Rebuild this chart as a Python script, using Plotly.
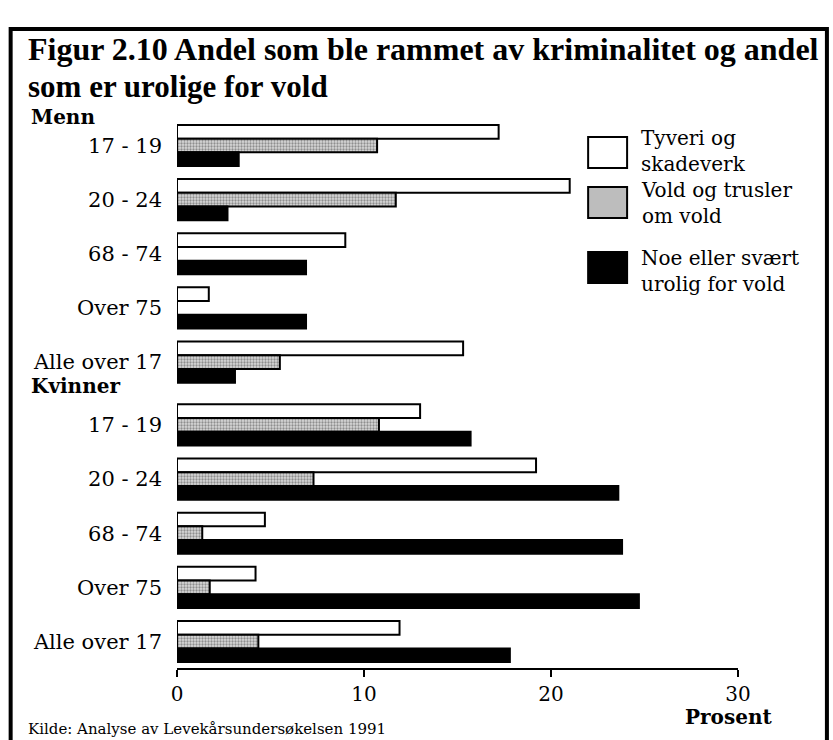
import plotly.graph_objects as go

# data (percent)
age_groups = ["17 - 19", "20 - 24", "68 - 74", "Over 75", "Alle over 17"]
menn_tyveri = [17.2, 21.0, 9.0, 1.7, 15.3]
menn_vold = [10.7, 11.7, 0, 0, 5.5]
menn_urolig = [3.3, 2.7, 6.9, 6.9, 3.1]
kvinner_tyveri = [13.0, 19.2, 4.7, 4.2, 11.9]
kvinner_vold = [10.8, 7.3, 1.35, 1.75, 4.35]
kvinner_urolig = [15.7, 23.6, 23.8, 24.7, 17.8]
series_names = ["Tyveri og<br>skadeverk", "Vold og trusler<br>om vold", "Noe eller svært<br>urolig for vold"]
x_ticks = [0, 10, 20, 30]

FONT = "DejaVu Serif"
TITLE_FONT = "Liberation Serif"
W, H = 833, 740
L, R, T, B = 176.5, 95, 115, 72
PW, PH = W - L - R, H - T - B

def px(x):
    return (x - L) / PW

def py(y):
    return (H - B - y) / PH

# y positions: Menn 0..4, Kvinner shifted a bit for the group gap
gap = 0.16
pos = list(range(5)) + [i + 5 + gap for i in range(5)]
labels = age_groups + age_groups

tyveri = menn_tyveri + kvinner_tyveri
vold = menn_vold + kvinner_vold
urolig = menn_urolig + kvinner_urolig

line = dict(color="black", width=2)
gray_pattern = dict(shape=".", fgcolor="#444444", bgcolor="#d8d8d8", size=3, solidity=0.45)
fig = go.Figure()
fig.add_trace(go.Bar(y=pos, x=tyveri, orientation="h", name="Tyveri og skadeverk",
                     marker=dict(color="white", line=line)))
fig.add_trace(go.Bar(y=pos, x=vold, orientation="h", name="Vold og trusler om vold",
                     marker=dict(color="#d0d0d0", line=line, pattern=gray_pattern)))
fig.add_trace(go.Bar(y=pos, x=urolig, orientation="h", name="Noe eller svært urolig for vold",
                     marker=dict(color="black", line=line)))

# legend drawn by hand (large boxes like the original)
legend_boxes = [(137, 168, "white"), (187, 218, "#bdbdbd"), (252, 283, "black")]
shapes = []
for (y0, y1, col) in legend_boxes:
    shapes.append(dict(type="rect", xref="paper", yref="paper",
                       x0=px(588), x1=px(627), y0=py(y1), y1=py(y0),
                       fillcolor=col, line=dict(color="black", width=2)))
# frame
shapes.append(dict(type="rect", xref="paper", yref="paper",
                   x0=px(10), x1=px(827), y0=py(760), y1=py(29),
                   line=dict(color="black", width=4)))

annotations = []
legend_text_y = [151, 203, 271]
for name, yy in zip(series_names, legend_text_y):
    annotations.append(dict(text=name, xref="paper", yref="paper", x=px(639), y=py(yy),
                            xanchor="left", yanchor="middle", align="left", showarrow=False,
                            font=dict(family=FONT, size=20, color="black")))

annotations += [
    dict(text="<b>Figur 2.10 Andel som ble rammet av kriminalitet og andel</b>",
         xref="paper", yref="paper", x=px(25), y=py(49), xanchor="left", yanchor="middle",
         showarrow=False, font=dict(family=TITLE_FONT, size=32, color="black")),
    dict(text="<b>som er urolige for vold</b>",
         xref="paper", yref="paper", x=px(25), y=py(87), xanchor="left", yanchor="middle",
         showarrow=False, font=dict(family=TITLE_FONT, size=31, color="black")),
    dict(text="<b>Menn</b>", xref="paper", yref="paper", x=px(28), y=py(117),
         xanchor="left", yanchor="middle", showarrow=False,
         font=dict(family=FONT, size=20, color="black")),
    dict(text="<b>Kvinner</b>", xref="paper", yref="paper", x=px(28), y=py(386),
         xanchor="left", yanchor="middle", showarrow=False,
         font=dict(family=FONT, size=20, color="black")),
    dict(text="<b>Prosent</b>", xref="paper", yref="paper", x=px(774), y=py(717),
         xanchor="right", yanchor="middle", showarrow=False,
         font=dict(family=FONT, size=20, color="black")),
    dict(text="Kilde: Analyse av Levekårsundersøkelsen 1991", xref="paper", yref="paper",
         x=px(25), y=py(729), xanchor="left", yanchor="middle", showarrow=False,
         font=dict(family=FONT, size=15, color="black")),
]

fig.update_layout(
    width=W, height=H,
    margin=dict(l=L, r=R, t=T, b=B, pad=0),
    paper_bgcolor="white", plot_bgcolor="white",
    barmode="group", bargap=0.24, bargroupgap=0,
    showlegend=False,
    font=dict(family=FONT, size=20, color="black"),
    xaxis=dict(range=[0, 30], tickvals=x_ticks, showgrid=False, zeroline=False,
               showline=True, linecolor="black", linewidth=2, ticks="outside",
               ticklen=7, tickwidth=2, tickcolor="black",
               tickfont=dict(family=FONT, size=20, color="black")),
    yaxis=dict(range=[9.16 + 0.489, -0.563], tickvals=pos, ticktext=labels,
               showgrid=False, zeroline=False, showline=False, ticks="",
               ticklabelstandoff=14,
               tickfont=dict(family=FONT, size=21, color="black")),
    shapes=shapes,
    annotations=annotations,
)

# page body has an 8px default margin; drop it so the figure fills the window
fig.write_html("out.html", config={"displayModeBar": False},
               post_script="document.body.style.margin='0';")
